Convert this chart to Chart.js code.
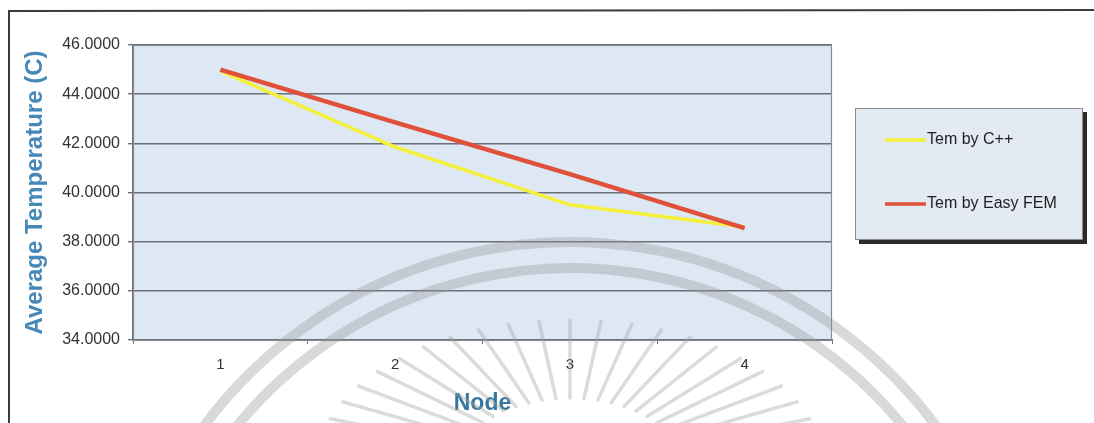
<!DOCTYPE html>
<html>
<head>
<meta charset="utf-8">
<title>Average Temperature by Node</title>
<script src="https://cdn.jsdelivr.net/npm/chart.js@4/dist/chart.umd.min.js"></script>
<style>
  html, body { margin: 0; padding: 0; background: #ffffff; }
  #wrap { width: 1094px; height: 423px; }
</style>
</head>
<body>
<div id="wrap"><canvas id="chart" width="1094" height="423"></canvas></div>
<script>
// Node numbers along the x axis
const nodes = ['1', '2', '3', '4'];

// Average temperature (C) at each node
const temCpp = [44.95, 41.85, 39.50, 38.60];
const temEasyFem = [45.00, 42.85, 40.75, 38.55];

// Series names
const seriesNames = ['Tem by C++', 'Tem by Easy FEM'];

// Value axis range and step
const yMin = 34;
const yMax = 46;
const yStep = 2;

const FONT = '"Liberation Sans", Arial, Helvetica, sans-serif';

// Light blue fill and grey frame for the plotting area
const plotBackground = {
  id: 'plotBackground',
  beforeDraw(chart) {
    const { ctx, chartArea: a } = chart;
    ctx.save();
    ctx.fillStyle = '#dee8f4';
    ctx.fillRect(a.left, a.top, a.right - a.left, a.bottom - a.top);
    ctx.restore();
  },
  afterDatasetsDraw(chart) {
    const { ctx, chartArea: a } = chart;
    ctx.save();
    ctx.strokeStyle = '#868b94';
    ctx.lineWidth = 1.2;
    ctx.strokeRect(a.left + 0.5, a.top + 0.5, a.right - a.left - 1, a.bottom - a.top);
    ctx.restore();
  }
};

// Outer frame lines of the figure
const figureFrame = {
  id: 'figureFrame',
  beforeDraw(chart) {
    const { ctx } = chart;
    ctx.save();
    ctx.strokeStyle = '#3c3c3c';
    ctx.lineWidth = 2;
    ctx.beginPath();
    ctx.moveTo(9, 423);
    ctx.lineTo(9, 11);
    ctx.lineTo(1094, 10);
    ctx.stroke();
    ctx.restore();
  }
};

// Boxed legend with drop shadow at the right of the plot
const boxedLegend = {
  id: 'boxedLegend',
  afterDraw(chart) {
    const { ctx } = chart;
    const x = 855, y = 108, w = 228, h = 132;
    ctx.save();
    // shadow
    ctx.fillStyle = '#2b2b2b';
    ctx.fillRect(x + 4, y + 4, w, h);
    // box
    ctx.fillStyle = '#e3eaf4';
    ctx.fillRect(x, y, w, h);
    ctx.strokeStyle = '#8c8c8c';
    ctx.lineWidth = 1;
    ctx.strokeRect(x + 0.5, y + 0.5, w - 1, h - 1);
    // entries
    const rows = [140, 204];
    chart.data.datasets.forEach((ds, i) => {
      const ry = rows[i];
      ctx.strokeStyle = ds.borderColor;
      ctx.lineWidth = 3.5;
      ctx.beginPath();
      ctx.moveTo(885, ry);
      ctx.lineTo(926, ry);
      ctx.stroke();
      ctx.fillStyle = '#1f1f1f';
      ctx.font = '16px ' + FONT;
      ctx.textBaseline = 'middle';
      ctx.textAlign = 'left';
      ctx.fillText(ds.label, 927, ry);
    });
    ctx.restore();
  }
};

// Faint university seal printed across the page: two arcs and a ray burst
const seal = {
  id: 'seal',
  afterDraw(chart) {
    const { ctx } = chart;
    const cx = 570, cy = 698;
    ctx.save();
    ctx.strokeStyle = 'rgba(150,150,150,0.36)';
    ctx.lineWidth = 10;
    [456, 430].forEach(r => {
      ctx.beginPath();
      ctx.arc(cx, cy, r, Math.PI * 1.05, Math.PI * 1.95);
      ctx.stroke();
    });
    // ray burst
    const bx = 570, by = 470;
    ctx.strokeStyle = 'rgba(160,160,160,0.38)';
    ctx.lineCap = 'round';
    ctx.lineWidth = 3.5;
    for (let deg = -160; deg <= -20; deg += 7) {
      const t = deg * Math.PI / 180;
      const c = Math.cos(t), s = Math.sin(t);
      ctx.beginPath();
      ctx.moveTo(bx + 115 * c, by + 72 * s);
      ctx.lineTo(bx + 255 * c, by + 150 * s);
      ctx.stroke();
    }
    ctx.restore();
  }
};

new Chart(document.getElementById('chart'), {
  type: 'line',
  data: {
    labels: nodes,
    datasets: [
      {
        label: seriesNames[0],
        data: temCpp,
        borderColor: '#f4f03c',
        borderWidth: 3.5,
        pointRadius: 0,
        tension: 0,
        order: 2
      },
      {
        label: seriesNames[1],
        data: temEasyFem,
        borderColor: '#df5138',
        borderWidth: 4.5,
        pointRadius: 0,
        tension: 0,
        order: 1
      }
    ]
  },
  options: {
    responsive: false,
    animation: false,
    layout: { padding: { left: 0, right: 262, top: 45, bottom: 0 } },
    plugins: {
      legend: { display: false },
      tooltip: { enabled: false }
    },
    scales: {
      x: {
        type: 'category',
        offset: true,
        grid: {
          offset: true,
          drawOnChartArea: false,
          drawTicks: true,
          tickLength: 4,
          color: '#6b6f77'
        },
        border: { color: '#6b6f77', width: 1.5 },
        ticks: {
          color: '#333333',
          font: { family: FONT, size: 15 },
          padding: 12,
          maxRotation: 0
        },
        title: {
          display: true,
          text: 'Node',
          color: '#35779f',
          font: { family: FONT, size: 23, weight: 'bold' },
          padding: { top: 0, bottom: 6 }
        },
        afterFit(scale) { scale.height = 423 - 340; }
      },
      y: {
        min: yMin,
        max: yMax,
        grid: {
          color: '#6b6f77',
          lineWidth: 1.4,
          tickLength: 5
        },
        border: { color: '#6b6f77', width: 1.4 },
        ticks: {
          stepSize: yStep,
          color: '#333333',
          font: { family: FONT, size: 16 },
          padding: 8,
          callback: v => Number(v).toFixed(4)
        },
        title: {
          display: true,
          text: 'Average Temperature (C)',
          color: '#4689b8',
          font: { family: FONT, size: 24, weight: 'bold' },
          padding: { top: 21, bottom: 0 }
        },
        afterFit(scale) { scale.width = 133; }
      }
    }
  },
  plugins: [figureFrame, plotBackground, boxedLegend, seal]
});
</script>
</body>
</html>
